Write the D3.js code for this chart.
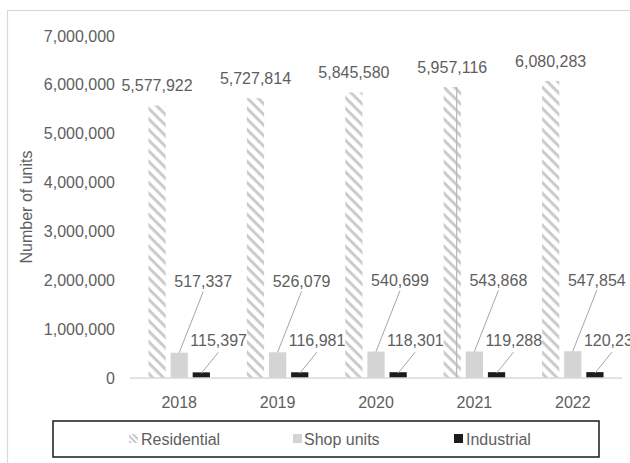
<!DOCTYPE html>
<html>
<head>
<meta charset="utf-8">
<script src="https://cdn.jsdelivr.net/npm/d3@7"></script>
<style>
  html, body { margin: 0; padding: 0; background: #fff; }
  svg { display: block; font-family: "Liberation Sans", Arial, sans-serif; }
</style>
</head>
<body>
<svg id="chart" width="630" height="463"></svg>
<script>
const years = ["2018", "2019", "2020", "2021", "2022"];
const seriesNames = ["Residential", "Shop units", "Industrial"];
const residential = [5577922, 5727814, 5845580, 5957116, 6080283];
const shopUnits = [517337, 526079, 540699, 543868, 547854];
const industrial = [115397, 116981, 118301, 119288, 120233];
const yTicks = [0, 1000000, 2000000, 3000000, 4000000, 5000000, 6000000, 7000000];
const yTitle = "Number of units";

const textColor = "#5e5e5e";
const fmt = d3.format(",");
const svg = d3.select("#chart");

// pattern for residential ("\" stripes)
const defs = svg.append("defs");
const pat = defs.append("pattern")
  .attr("id", "hatch")
  .attr("patternUnits", "userSpaceOnUse")
  .attr("width", 7.5).attr("height", 7.5)
  .attr("patternTransform", "rotate(45)");
pat.append("rect").attr("width", 7.5).attr("height", 7.5).attr("fill", "#ffffff");
pat.append("rect").attr("x", 0).attr("y", 0).attr("width", 7.5).attr("height", 3).attr("fill", "#cbcbcb");

const colors = { "Residential": "url(#hatch)", "Shop units": "#d4d4d4", "Industrial": "#1c1c1c" };

// outer chart border
svg.append("rect").attr("x", 7.5).attr("y", 10.5).attr("width", 800).attr("height", 600)
  .attr("fill", "none").attr("stroke", "#d9d9d9").attr("stroke-width", 1.2);

const x0 = d3.scaleBand().domain(years).range([130, 622]).paddingInner(0.375).paddingOuter(0.1875);
const x1 = d3.scaleBand().domain(seriesNames).range([0, x0.bandwidth()]).paddingInner(0.22);
const y = d3.scaleLinear().domain([0, 7000000]).range([378, 36]);

// y tick labels
svg.append("g").selectAll("text").data(yTicks).join("text")
  .attr("x", 115).attr("y", d => y(d)).attr("dy", "0.35em")
  .attr("text-anchor", "end").attr("font-size", 16).attr("fill", textColor)
  .text(d => fmt(d));

// y title
svg.append("text")
  .attr("transform", `translate(32,${(y(0) + y(7000000)) / 2}) rotate(-90)`)
  .attr("text-anchor", "middle").attr("font-size", 16).attr("fill", textColor)
  .text(yTitle);

const data = years.map((yr, i) => ({
  year: yr,
  vals: [
    { s: "Residential", v: residential[i] },
    { s: "Shop units", v: shopUnits[i] },
    { s: "Industrial", v: industrial[i] }
  ]
}));

const groups = svg.append("g").selectAll("g").data(data).join("g")
  .attr("transform", d => `translate(${x0(d.year)},0)`);

groups.selectAll("rect").data(d => d.vals).join("rect")
  .attr("x", d => x1(d.s)).attr("width", x1.bandwidth())
  .attr("y", d => y(d.v)).attr("height", d => y(0) - y(d.v))
  .attr("fill", d => colors[d.s]);

// artifact line inside 2021 residential bar
{
  const xr = x0("2021") + x1("Residential") + 13;
  svg.append("line").attr("x1", xr).attr("x2", xr)
    .attr("y1", y(residential[3])).attr("y2", y(0))
    .attr("stroke", "#b8b8b8").attr("stroke-width", 1.2);
}

// baseline
svg.append("line").attr("x1", 130).attr("x2", 622).attr("y1", y(0)).attr("y2", y(0))
  .attr("stroke", "#d9d9d9").attr("stroke-width", 1.5);

// x labels
svg.append("g").selectAll("text").data(years).join("text")
  .attr("x", d => x0(d) + x0.bandwidth() / 2).attr("y", 402).attr("dy", "0.35em")
  .attr("text-anchor", "middle").attr("font-size", 16).attr("fill", textColor)
  .text(d => d);

// residential labels
svg.append("g").selectAll("text").data(data).join("text")
  .attr("x", d => x0(d.year) + x1("Residential") + x1.bandwidth() / 2)
  .attr("y", (d, i) => y(residential[i]) - 20).attr("dy", "0.35em")
  .attr("text-anchor", "middle").attr("font-size", 16).attr("fill", textColor)
  .text((d, i) => fmt(residential[i]));

// shop labels + leader lines
const shopLbl = svg.append("g");
years.forEach((yr, i) => {
  const bx = x0(yr) + x1("Shop units") + x1.bandwidth() / 2;
  const by = y(shopUnits[i]);
  const lx = bx + 24, ly = by - 71;
  shopLbl.append("line").attr("x1", lx).attr("y1", ly + 10).attr("x2", bx).attr("y2", by)
    .attr("stroke", "#a6a6a6").attr("stroke-width", 1);
  shopLbl.append("text").attr("x", lx).attr("y", ly).attr("dy", "0.35em")
    .attr("text-anchor", "middle").attr("font-size", 16).attr("fill", textColor)
    .text(fmt(shopUnits[i]));
});

// industrial labels + leader lines
const indLbl = svg.append("g");
years.forEach((yr, i) => {
  const bx = x0(yr) + x1("Industrial") + x1.bandwidth() / 2;
  const by = y(industrial[i]);
  const lx = bx - 11, ly = by - 32;
  indLbl.append("line").attr("x1", bx + 17).attr("y1", ly + 12).attr("x2", bx).attr("y2", by + 1)
    .attr("stroke", "#a6a6a6").attr("stroke-width", 1);
  indLbl.append("text").attr("x", lx).attr("y", ly).attr("dy", "0.35em")
    .attr("text-anchor", "start").attr("font-size", 16).attr("fill", textColor)
    .text(fmt(industrial[i]));
});

// legend
const leg = svg.append("g");
leg.append("rect").attr("x", 53).attr("y", 421).attr("width", 546).attr("height", 36)
  .attr("fill", "#fff").attr("stroke", "#1a1a1a").attr("stroke-width", 1.5);
const legPos = [{ sx: 129, tx: 141 }, { sx: 293, tx: 304 }, { sx: 454, tx: 466 }];
const legPat = defs.append("pattern")
  .attr("id", "hatchLeg")
  .attr("patternUnits", "userSpaceOnUse")
  .attr("width", 4).attr("height", 4)
  .attr("patternTransform", "rotate(45)");
legPat.append("rect").attr("width", 4).attr("height", 4).attr("fill", "#ffffff");
legPat.append("rect").attr("width", 4).attr("height", 2).attr("fill", "#c8c8c8");
seriesNames.forEach((s, i) => {
  leg.append("rect").attr("x", legPos[i].sx).attr("y", 434).attr("width", 9).attr("height", 9)
    .attr("fill", s === "Residential" ? "url(#hatchLeg)" : colors[s]);
  leg.append("text").attr("x", legPos[i].tx).attr("y", 439).attr("dy", "0.35em")
    .attr("font-size", 16).attr("fill", textColor).text(s);
});
</script>
</body>
</html>
